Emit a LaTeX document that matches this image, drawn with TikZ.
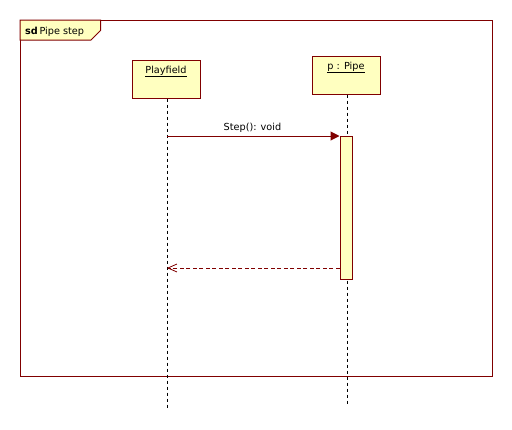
\documentclass[tikz,border=0pt]{standalone}
\usepackage{fontspec}
\setmainfont{DejaVu Sans}
\usetikzlibrary{arrows.meta}
\definecolor{umlred}{RGB}{128,0,0}
\definecolor{umlfill}{RGB}{255,255,192}
\tikzset{
  umlline/.style={draw=umlred, line width=1pt},
  lifebox/.style={umlline, fill=umlfill, rectangle, minimum width=68pt, minimum height=38pt, inner sep=0pt},
  boxlabel/.style={anchor=north, inner sep=0pt, yshift=-6pt, font=\fontsize{9.7}{11}\selectfont},
  lifeline/.style={draw=black, line width=0.9pt, dash pattern=on 3pt off 3pt},
  actbox/.style={umlline, fill=umlfill, rectangle, minimum width=12pt, minimum height=143pt, inner sep=0pt},
  syncmsg/.style={umlline, -{Triangle[length=9pt,width=9pt]}},
  retmsg/.style={draw=umlred, line width=0.9pt, dash pattern=on 4pt off 2.5pt, -{Straight Barb[length=9pt,width=8pt,line width=0.8pt]}},
  msglabel/.style={font=\fontsize{9.7}{11}\selectfont, inner sep=0pt, anchor=base}
}
\begin{document}
\begin{tikzpicture}[x=1pt,y=-1pt]
\useasboundingbox (0,0) rectangle (512,429);
% frame
\draw[umlline] (20,20) rectangle (492,376);
\draw[umlline, fill=umlfill] (20,20) -- (100.5,20) -- (100.5,30.5) -- (91,40) -- (20,40) -- cycle;
\node[anchor=base west, inner sep=0pt, font=\fontsize{9.7}{11}\selectfont] (title) at (25,34) {\textbf{sd}\,Pipe step};
% lifeline heads
\node[lifebox, label={[boxlabel, name=pftext]north:\underline{Playfield}}] (pf) at (166,79) {};
\node[lifebox, label={[boxlabel, name=pptext]north:\underline{p : Pipe}}] (pp) at (346,75) {};
% lifeline ends
\coordinate (pfend) at (167,408);
\coordinate (ppend) at (347.5,404);
\draw[lifeline] (pf.south -| pfend) -- (pfend);
\draw[lifeline] (pp.south -| ppend) -- (ppend);
% activation
\node[actbox, anchor=north] (act) at (346,136) {};
% messages
\coordinate (m1start) at (167,136);
\draw[syncmsg] (m1start) -- (act.north west);
\node[msglabel] (m1) at (252.5,130) {Step(): void};
\coordinate (m2end) at (167,268);
\draw[retmsg] (act.west |- m2end) -- (m2end);
\end{tikzpicture}
\end{document}
